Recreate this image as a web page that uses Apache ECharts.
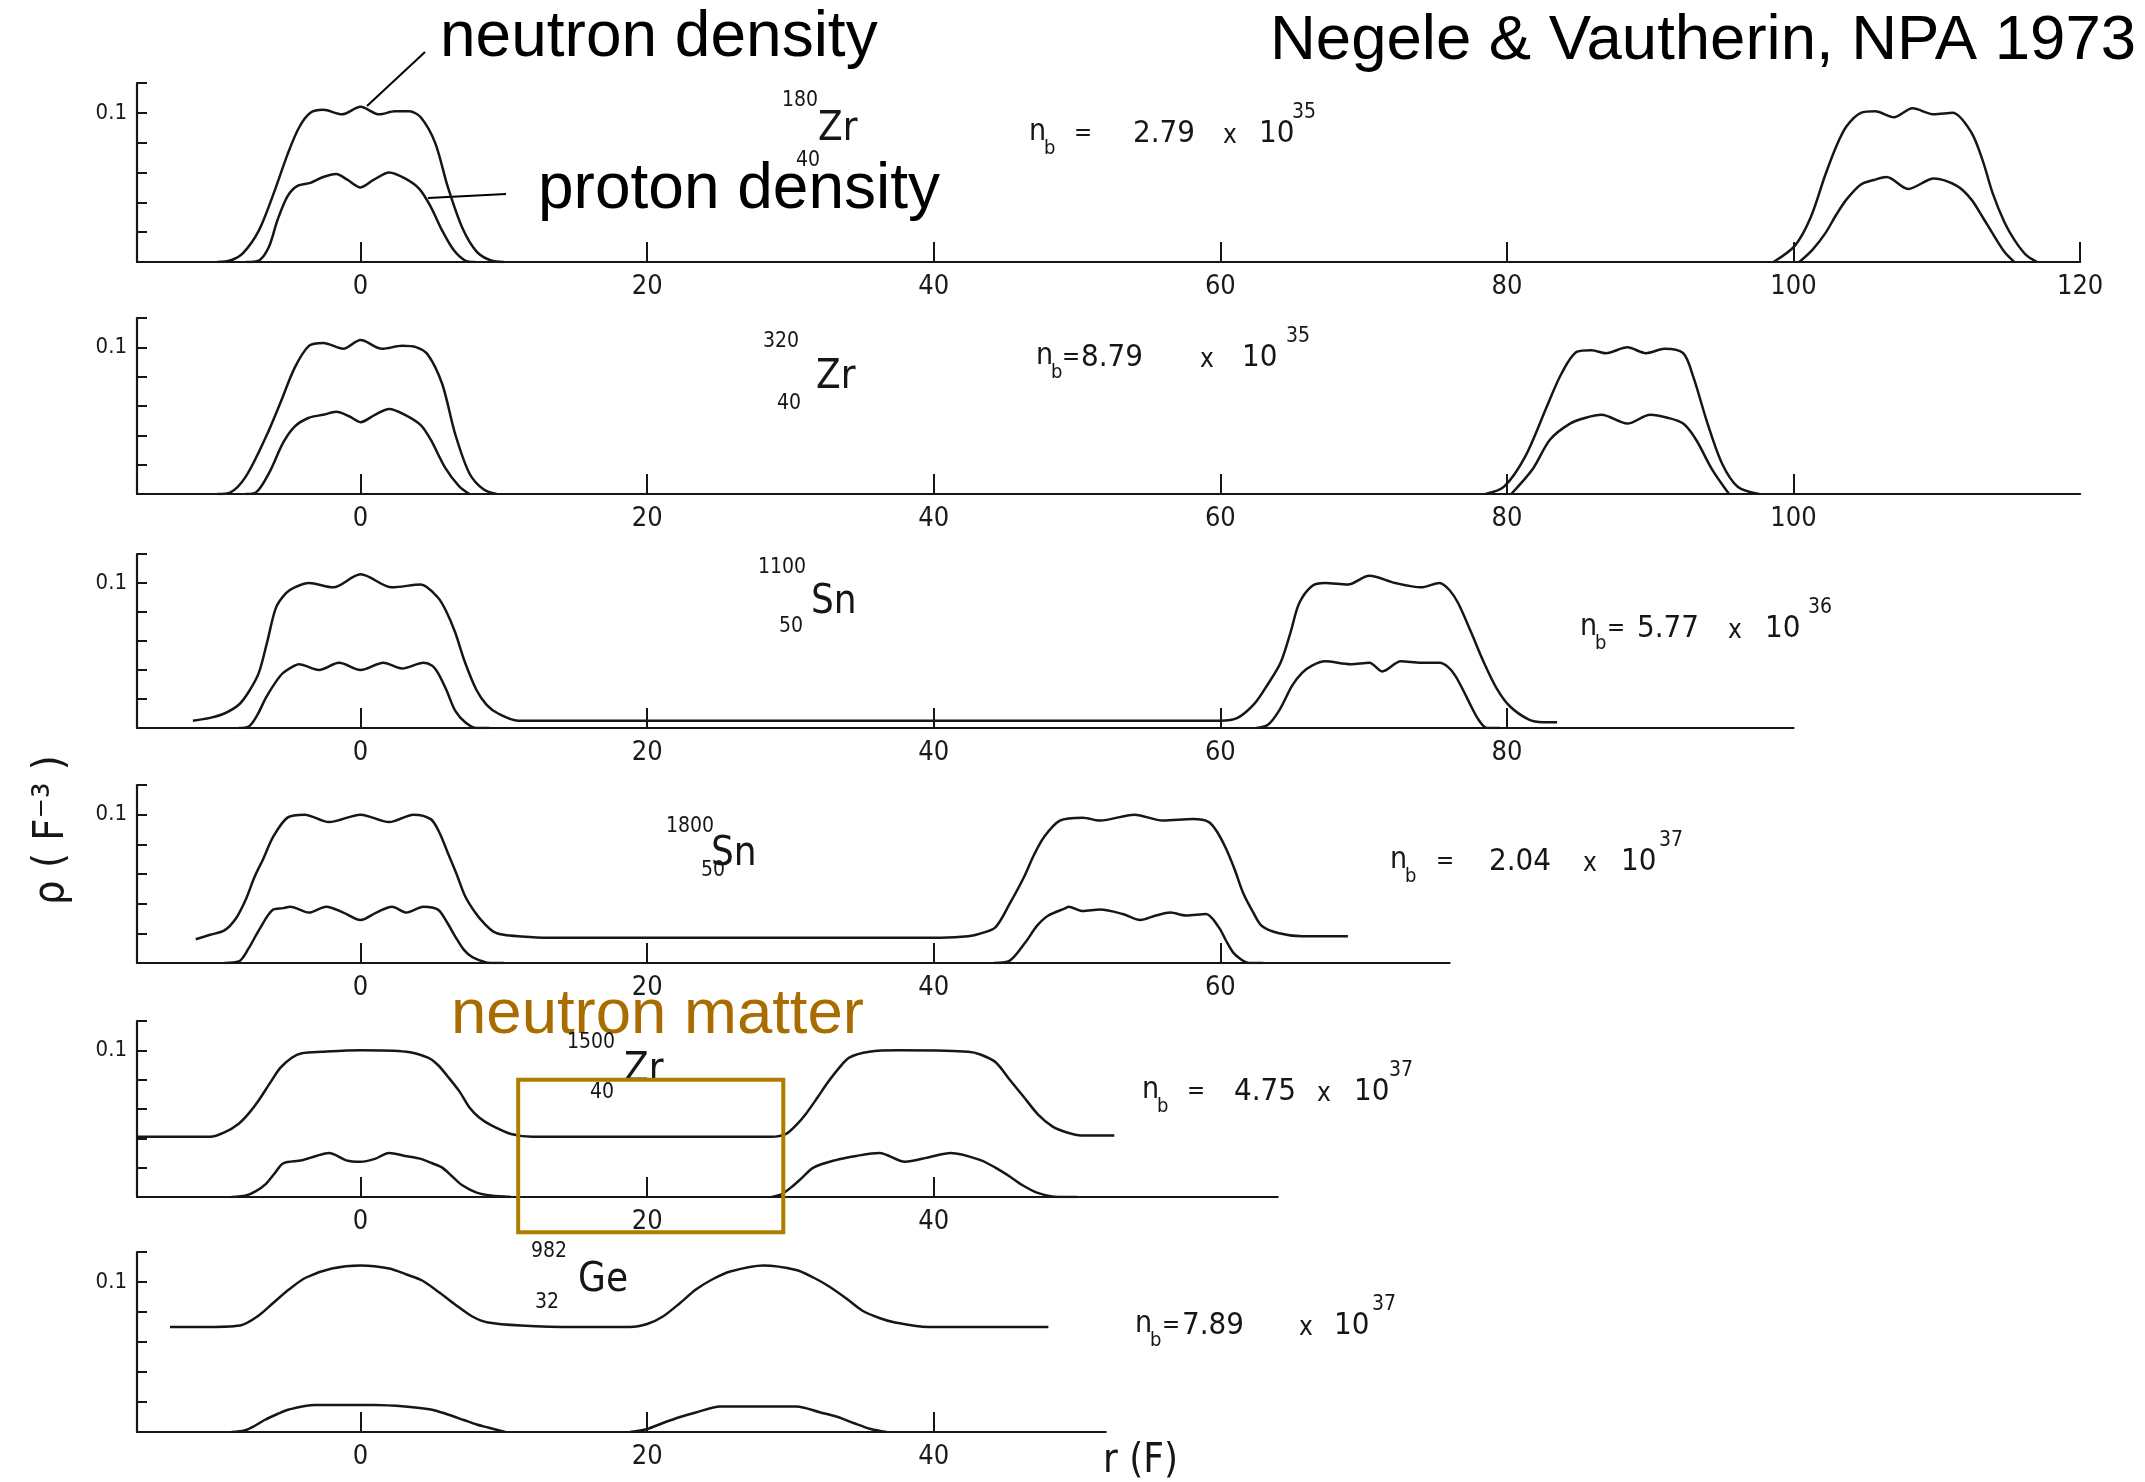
<!DOCTYPE html>
<html><head><meta charset="utf-8">
<script src="https://cdn.jsdelivr.net/npm/echarts@6.0.0/dist/echarts.min.js"></script>
<style>html,body{margin:0;padding:0;background:#fff}#c{width:2145px;height:1482px}</style>
</head><body><div id="c"></div>
<script>
// ---------------- DATA (r in fm, density in fm^-3) ----------------
// Panel 1: 180Zr(40)
const zr180_neutron_a = [[-10,0],[-9.1,0.001],[-8.2,0.006],[-7.1,0.021],[-6.1,0.045],[-5.1,0.072],[-4.3,0.09],[-3.5,0.1],[-2.6,0.102],[-1.3,0.099],[0,0.104],[1.3,0.099],[2.4,0.101],[3.4,0.101],[4.2,0.097],[5.2,0.08],[6.1,0.05],[7.1,0.023],[8.1,0.007],[9.1,0.001],[10,0]];
const zr180_neutron_b = [[98.6,0],[100.1,0.011],[101.2,0.03],[102.2,0.058],[103,0.078],[103.7,0.091],[104.7,0.1],[105.7,0.101],[107,0.097],[108.3,0.103],[109.8,0.099],[111.1,0.1],[112.4,0.087],[113.2,0.068],[113.9,0.046],[114.7,0.027],[115.4,0.015],[116.2,0.005],[117,0]];
const zr180_proton_a = [[-8,0],[-7.1,0.001],[-6.4,0.01],[-5.8,0.028],[-5.1,0.044],[-4.4,0.051],[-3.5,0.053],[-2.6,0.057],[-1.7,0.059],[-0.9,0.055],[0,0.05],[0.9,0.055],[2,0.06],[3.1,0.056],[4.1,0.049],[4.9,0.037],[5.7,0.021],[6.5,0.008],[7.3,0.001],[8,0]];
const zr180_proton_b = [[100.4,0],[101.3,0.008],[102.2,0.019],[103,0.032],[103.7,0.042],[104.7,0.052],[105.6,0.055],[106.5,0.057],[108,0.049],[109.8,0.056],[111.4,0.051],[112.4,0.042],[113.2,0.03],[113.9,0.019],[114.7,0.007],[115.4,0]];
// Panel 2: 320Zr(40)
const zr320_neutron_a = [[-10,0],[-9.1,0.001],[-8,0.012],[-6.6,0.039],[-5.6,0.062],[-4.6,0.086],[-3.6,0.101],[-2.6,0.103],[-1.2,0.099],[0,0.105],[1.5,0.099],[2.9,0.101],[3.9,0.1],[4.7,0.095],[5.7,0.075],[6.6,0.041],[7.6,0.014],[8.6,0.003],[9.5,0]];
const zr320_neutron_b = [[78.5,0],[79.8,0.005],[81.3,0.026],[82.8,0.06],[83.8,0.082],[84.9,0.097],[85.9,0.098],[86.9,0.096],[88.4,0.1],[89.7,0.096],[91,0.099],[92.3,0.096],[93,0.08],[94,0.048],[95,0.021],[96.1,0.005],[97.6,0]];
const zr320_proton_a = [[-8,0],[-7.3,0.001],[-6.4,0.014],[-5.4,0.035],[-4.6,0.046],[-3.6,0.052],[-2.6,0.054],[-1.7,0.056],[-0.8,0.053],[0,0.049],[1,0.054],[2,0.058],[3.1,0.054],[4.2,0.047],[4.9,0.037],[5.9,0.018],[6.9,0.005],[7.6,0]];
const zr320_proton_b = [[80.3,0],[81.8,0.017],[83,0.037],[84.4,0.048],[85.5,0.052],[86.6,0.054],[88.4,0.048],[90,0.054],[91.2,0.052],[92.3,0.048],[93.2,0.037],[94.3,0.017],[95.5,0]];
// Panel 3: 1100Sn(50)
const sn1100_neutron = [[-11.7,0.005],[-10.5,0.007],[-9.5,0.01],[-8.5,0.016],[-7.8,0.025],[-7.1,0.038],[-6.5,0.06],[-5.9,0.083],[-5.2,0.093],[-4.6,0.097],[-3.6,0.1],[-1.9,0.097],[0,0.106],[2.2,0.097],[4.2,0.099],[5.4,0.09],[6,0.08],[6.6,0.066],[7.3,0.045],[8.1,0.026],[8.8,0.016],[9.6,0.01],[11,0.005],[13,0.005],[16,0.005],[25,0.005],[35,0.005],[45,0.005],[55,0.005],[58,0.005],[60,0.005],[61.2,0.007],[62.4,0.017],[63.3,0.03],[64.2,0.045],[64.9,0.066],[65.5,0.086],[66.4,0.098],[67.3,0.1],[68.9,0.099],[70.4,0.105],[72.2,0.1],[74,0.097],[75.3,0.1],[76,0.095],[76.6,0.086],[77.5,0.066],[78.4,0.045],[79.3,0.027],[80.2,0.015],[81.5,0.006],[82.5,0.004],[83.5,0.004]];
const sn1100_proton_a = [[-8.5,0],[-7.8,0.001],[-7.2,0.009],[-6.6,0.021],[-5.9,0.032],[-5.4,0.038],[-4.6,0.043],[-4.3,0.044],[-2.9,0.04],[-1.5,0.045],[0,0.04],[1.6,0.045],[2.9,0.041],[4.4,0.045],[5,0.043],[5.4,0.038],[6,0.026],[6.6,0.012],[7.3,0.004],[8.1,0],[9,0]];
const sn1100_proton_b = [[62.5,0],[63.3,0.002],[64.1,0.012],[65,0.029],[65.7,0.038],[66.4,0.043],[67.3,0.046],[69.1,0.044],[70.4,0.045],[71.3,0.039],[72.6,0.046],[74,0.045],[75.3,0.045],[75.9,0.042],[76.4,0.036],[77,0.025],[77.5,0.015],[78,0.006],[78.6,0],[79.5,0]];
// Panel 4: 1800Sn(50)
const sn1800_neutron = [[-11.5,0.016],[-10.5,0.019],[-9.5,0.022],[-8.7,0.03],[-8,0.043],[-7.4,0.058],[-6.8,0.07],[-6.1,0.085],[-5.1,0.098],[-3.9,0.1],[-2.2,0.095],[0,0.1],[2,0.095],[3.7,0.1],[4.9,0.097],[5.5,0.088],[6.1,0.074],[6.7,0.06],[7.3,0.045],[8,0.034],[8.6,0.027],[9.3,0.021],[10,0.019],[11,0.018],[13,0.017],[20,0.017],[30,0.017],[38,0.017],[40.5,0.017],[42.4,0.018],[43.3,0.02],[44.3,0.024],[45.3,0.04],[46.3,0.058],[47,0.073],[47.7,0.085],[48.8,0.096],[50.4,0.098],[51.6,0.096],[54,0.1],[56,0.096],[58.1,0.097],[59.2,0.095],[59.8,0.088],[60.4,0.077],[61,0.063],[61.6,0.047],[62.3,0.034],[62.9,0.025],[64.1,0.02],[65.7,0.018],[68.9,0.018]];
const sn1800_proton_a = [[-9.5,0],[-8.5,0.001],[-7.8,0.01],[-7.1,0.022],[-6.1,0.036],[-5.4,0.037],[-4.9,0.038],[-3.6,0.034],[-2.4,0.038],[-1.2,0.034],[0,0.029],[1.1,0.034],[2.2,0.038],[3.2,0.034],[4.4,0.038],[5.4,0.036],[6,0.028],[6.6,0.018],[7.2,0.009],[7.8,0.004],[9.1,0],[10,0]];
const sn1800_proton_b = [[44.2,0],[45.2,0.001],[46.4,0.014],[47.2,0.025],[48,0.032],[49.2,0.037],[49.4,0.038],[50.4,0.035],[51.6,0.036],[53.2,0.033],[54.4,0.029],[55.5,0.032],[56.5,0.034],[57.6,0.032],[59,0.033],[59.9,0.024],[60.4,0.015],[60.9,0.007],[61.5,0.002],[62,0],[63,0]];
// Panel 5: 1500Zr(40)
const zr1500_neutron = [[-15.6,0.041],[-14,0.041],[-12,0.041],[-10.5,0.041],[-9.5,0.044],[-8.5,0.05],[-7.8,0.057],[-7.1,0.066],[-6.3,0.078],[-5.6,0.088],[-4.8,0.095],[-4.1,0.098],[-2.7,0.099],[0,0.1],[3.2,0.099],[4.7,0.095],[5.4,0.09],[6.1,0.082],[6.9,0.072],[7.6,0.061],[8.3,0.054],[9.1,0.049],[10.5,0.043],[12,0.041],[14,0.041],[20,0.041],[26,0.041],[28.7,0.041],[29.7,0.043],[30.4,0.049],[31.1,0.057],[31.9,0.068],[32.6,0.078],[33.4,0.088],[34.1,0.095],[35.5,0.099],[37.5,0.1],[42.4,0.099],[43.3,0.097],[44.3,0.092],[45.3,0.08],[46.3,0.068],[47.3,0.056],[48.3,0.048],[49.3,0.044],[50.3,0.042],[51.5,0.042],[52.6,0.042]];
const zr1500_proton_a = [[-9,0],[-8,0.001],[-7.3,0.004],[-6.6,0.009],[-6,0.016],[-5.4,0.023],[-4.1,0.025],[-3.1,0.028],[-2.2,0.03],[-1,0.025],[0,0.024],[1,0.026],[2,0.03],[3.1,0.028],[4.2,0.026],[5,0.023],[5.7,0.02],[6.4,0.014],[7.1,0.008],[8.1,0.003],[9.1,0.001],[10.5,0]];
const zr1500_proton_b = [[28.7,0],[29.4,0.002],[30.1,0.007],[30.8,0.013],[31.6,0.02],[33.1,0.025],[34.6,0.028],[36.2,0.03],[38,0.024],[39.6,0.027],[41.2,0.03],[43.3,0.025],[44.3,0.02],[45.3,0.014],[46.2,0.008],[47.2,0.003],[48.7,0],[50,0]];
// Panel 6: 982Ge(32)
const ge982_neutron = [[-13.3,0.07],[-11,0.07],[-8.4,0.071],[-7.2,0.077],[-6.1,0.086],[-5,0.095],[-3.8,0.103],[-2,0.109],[0,0.111],[2,0.109],[3.2,0.105],[4.3,0.101],[5.5,0.093],[6.6,0.085],[7.8,0.077],[8.9,0.073],[11.2,0.071],[15,0.07],[18.8,0.07],[20,0.072],[21.1,0.077],[22.3,0.086],[23.4,0.095],[24.6,0.102],[25.8,0.107],[28.1,0.111],[30.4,0.108],[31.6,0.103],[32.7,0.097],[33.9,0.089],[35,0.081],[36.2,0.076],[37.3,0.073],[39.6,0.07],[44,0.07],[48,0.07]];
const ge982_proton_a = [[-9,0],[-8.1,0.001],[-7.4,0.004],[-6.7,0.008],[-5.8,0.012],[-5,0.015],[-3.2,0.018],[-2,0.018],[1,0.018],[3.1,0.017],[4.9,0.015],[6,0.012],[7.2,0.008],[8.1,0.005],[8.9,0.003],[10.1,0]];
const ge982_proton_b = [[18.8,0],[20,0.002],[21.1,0.006],[22.3,0.01],[23.4,0.013],[25.1,0.017],[28,0.017],[30.4,0.017],[32.1,0.013],[33.3,0.01],[34.4,0.006],[35.6,0.002],[36.7,0]];

// Tick labels per panel
const xTicks1 = [0,20,40,60,80,100,120];
const xTicks2 = [0,20,40,60,80,100];
const xTicks3 = [0,20,40,60,80];
const xTicks4 = [0,20,40,60];
const xTicks5 = [0,20,40];
const xTicks6 = [0,20,40];
const yLabelValue = 0.1;
// Nuclide labels: [mass, symbol, Z]
const nuclides = [["180","Zr","40"],["320","Zr","40"],["1100","Sn","50"],["1800","Sn","50"],["1500","Zr","40"],["982","Ge","32"]];
// Baryon densities n_b: [mantissa, exponent]
const densities = [["2.79","35"],["8.79","35"],["5.77","36"],["2.04","37"],["4.75","37"],["7.89","37"]];

// ---------------- LAYOUT ----------------
const XMIN = -15.6, PXU = 14.33, LEFT = 137;
const layout = [
  {top:83,  h:179, max:120},
  {top:318, h:176, max:120},
  {top:554, h:174, max:100},
  {top:785, h:178, max:76},
  {top:1021,h:176, max:64},
  {top:1252,h:180, max:52}
];
const xTicks = [xTicks1,xTicks2,xTicks3,xTicks4,xTicks5,xTicks6];
const curves = [
  [zr180_neutron_a, zr180_neutron_b, zr180_proton_a, zr180_proton_b],
  [zr320_neutron_a, zr320_neutron_b, zr320_proton_a, zr320_proton_b],
  [sn1100_neutron, sn1100_proton_a, sn1100_proton_b],
  [sn1800_neutron, sn1800_proton_a, sn1800_proton_b],
  [zr1500_neutron, zr1500_proton_a, zr1500_proton_b],
  [ge982_neutron, ge982_proton_a, ge982_proton_b]
];

const FIG = "'Liberation Sans Narrow','DejaVu Sans Condensed','Liberation Sans',sans-serif";
const ARIAL = "'Liberation Sans',Arial,Helvetica,sans-serif";
const INK = '#161616';

const grids = [], xAxes = [], yAxes = [], series = [];
layout.forEach((p, i) => {
  grids.push({left: LEFT, top: p.top, width: (p.max - XMIN) * PXU, height: p.h, outerBoundsMode: 'none', containLabel: false});
  xAxes.push({
    type: 'value', gridIndex: i, min: XMIN, max: p.max,
    axisLine: {show: true, onZero: false, lineStyle: {color: INK, width: 2.2}},
    axisTick: {show: true, inside: true, length: 20, customValues: xTicks[i], lineStyle: {color: INK, width: 2}},
    axisLabel: {show: true, customValues: xTicks[i], color: '#1a1a1a', fontSize: 27, fontFamily: FIG, margin: 11},
    splitLine: {show: false}
  });
  yAxes.push({
    type: 'value', gridIndex: i, min: 0, max: 0.12, interval: 0.02,
    axisLine: {show: true, onZero: false, lineStyle: {color: INK, width: 2.2}},
    axisTick: {show: true, inside: true, length: 10, lineStyle: {color: INK, width: 2}},
    axisLabel: {show: true, color: '#1a1a1a', fontSize: 22, fontFamily: FIG, margin: 10,
      formatter: v => Math.abs(v - yLabelValue) < 1e-9 ? '0.1' : ''},
    splitLine: {show: false}
  });
  curves[i].forEach(arr => {
    series.push({
      type: 'line', xAxisIndex: i, yAxisIndex: i, data: arr,
      showSymbol: false, smooth: 0.3, silent: true,
      lineStyle: {color: INK, width: 2.5}
    });
  });
});

const chart = echarts.init(document.getElementById('c'), null, {renderer: 'canvas'});
chart.setOption({
  animation: false,
  backgroundColor: '#ffffff',
  grid: grids, xAxis: xAxes, yAxis: yAxes, series: series
});

// ---------------- ANNOTATIONS ----------------
function txt(x, y, s, size, family, align, color) {
  return {type: 'text', x: x, y: y, silent: true, z: 10,
    style: {text: s, fontSize: size, fontFamily: family || FIG, fill: color || INK,
      textAlign: align || 'left', textVerticalAlign: 'middle', align: align || 'left', verticalAlign: 'middle'}};
}
const g = [];
g.push(txt(1270, 41, 'Negele & Vautherin, NPA 1973', 63.5, ARIAL, 'left', '#000'));
g.push(txt(440, 38, 'neutron density', 64, ARIAL, 'left', '#000'));
g.push(txt(538, 190, 'proton density', 64, ARIAL, 'left', '#000'));
g.push(txt(451, 1015, 'neutron matter', 63.5, ARIAL, 'left', '#A86C00'));
g.push({type: 'line', silent: true, shape: {x1: 425, y1: 52, x2: 367, y2: 106}, style: {stroke: '#000', lineWidth: 2}});
g.push({type: 'line', silent: true, shape: {x1: 428, y1: 198, x2: 506, y2: 194}, style: {stroke: '#000', lineWidth: 2}});

// nuclide labels: [massLeft, massY, symLeft, symY, zLeft, zY]
const nucPos = [
  [782,101, 818,130, 796,161],
  [763,342, 816,378, 777,404],
  [758,568, 811,603, 779,627],
  [666,827, 711,855, 701,871],
  [567,1043, 624,1071, 590,1093],
  [531,1252, 578,1281, 535,1303]
];
nuclides.forEach((n, i) => {
  const p = nucPos[i];
  g.push(txt(p[0], p[1], n[0], 21));
  g.push(txt(p[2], p[3], n[1], 40));
  g.push(txt(p[4], p[5], n[2], 21));
});
// n_b labels: [nLeft, eqLeft, numCenter, xCenter, tenLeft, expLeft, yMid]
const nbPos = [
  [1029, 1074, 1164, 1230, 1259, 1292, 134],
  [1036, 1062, 1112, 1207, 1242, 1286, 358],
  [1580, 1607, 1668, 1735, 1765, 1808, 629],
  [1390, 1436, 1520, 1590, 1621, 1659, 862],
  [1142, 1187, 1265, 1324, 1354, 1389, 1092],
  [1135, 1162, 1213, 1306, 1334, 1372, 1326]
];
densities.forEach((d, i) => {
  const p = nbPos[i], y = p[6];
  g.push(txt(p[0], y - 2, 'n', 30));
  g.push(txt(p[0] + 15, y + 15, 'b', 20));
  g.push(txt(p[1], y, '=', 24));
  g.push(txt(p[2], y, d[0], 31, FIG, 'center'));
  g.push(txt(p[3], y + 2, 'x', 26, FIG, 'center'));
  g.push(txt(p[4], y, '10', 31));
  g.push(txt(p[5], y - 21, d[1], 21));
});
// axis titles
g.push({type: 'text', x: 52, y: 830, rotation: Math.PI / 2, silent: true,
  style: {text: 'ρ ( F⁻³ )', fontSize: 43, fontFamily: FIG, fill: INK,
    textAlign: 'center', textVerticalAlign: 'middle', align: 'center', verticalAlign: 'middle'}});
g.push(txt(1103, 1462, 'r (F)', 40));

// neutron matter box, placed via panel-5 axes
const c1 = chart.convertToPixel({gridIndex: 4}, [11.0, 0.08]);
const c2 = chart.convertToPixel({gridIndex: 4}, [29.5, -0.024]);
g.push({type: 'rect', silent: true, z: 11,
  shape: {x: c1[0], y: c1[1], width: c2[0] - c1[0], height: c2[1] - c1[1]},
  style: {fill: 'none', stroke: '#AE7D00', lineWidth: 4}});

chart.setOption({graphic: g});
</script></body></html>
